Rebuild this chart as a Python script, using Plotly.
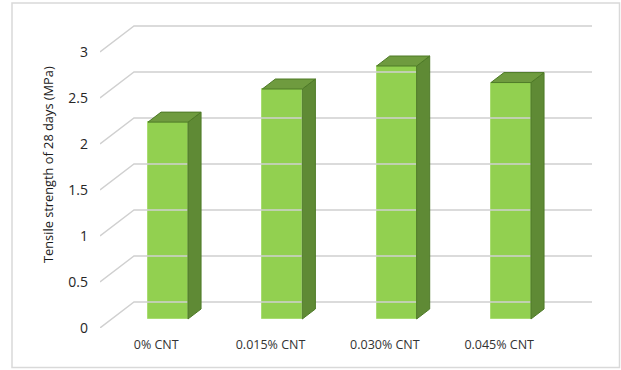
import plotly.graph_objects as go

# Tensile strength at 28 days for each CNT dosage
categories = ["0% CNT", "0.015% CNT", "0.030% CNT", "0.045% CNT"]
strength = [2.14, 2.50, 2.75, 2.57]
y_ticks = [0, 0.5, 1, 1.5, 2, 2.5, 3]

W, H = 621, 370
# plot area in pixels (left, right, top, bottom)
PL, PR, PT, PB = 100, 592, 10, 328
PX_PER_CAT = 114.33
PX_PER_VAL = 92.0
CAT0_PX = 156.2          # pixel x of first category on the floor front edge

# oblique 3D projection: full depth moves a point by (34px, -26px)
DEPTH_DX, DEPTH_DY = 34.0, 26.0
BAR_D0, BAR_D1 = 9 / 26, 19 / 26   # bar front / back depth fractions
BAR_W_PX = 40

x_lo = (PL - CAT0_PX) / PX_PER_CAT
x_hi = (PR - CAT0_PX) / PX_PER_CAT
y_lo = 0.0
y_hi = (PB - PT) / PX_PER_VAL


def proj(xc, v, d):
    """Project (category x, value, depth fraction) onto the front plane."""
    return (xc + d * DEPTH_DX / PX_PER_CAT, v + d * DEPTH_DY / PX_PER_VAL)


fig = go.Figure()

# back-wall gridlines plus left-wall diagonals
gx, gy = [], []
for v in y_ticks:
    x0, y0 = proj(x_lo, v, 0)
    x1, y1 = proj(x_lo, v, 1)
    gx += [x0, x1, x_hi, None]
    gy += [y0, y1, y1, None]
fig.add_trace(go.Scatter(x=gx, y=gy, mode="lines",
                         line=dict(color="#D0D0D0", width=1.4),
                         hoverinfo="skip", showlegend=False))

bw = BAR_W_PX / PX_PER_CAT
front_x = []
base_v = proj(0, 0, BAR_D0)[1]
for i, val in enumerate(strength):
    xc, _ = proj(i, 0, BAR_D0)
    front_x.append(xc)

# front faces
fig.add_trace(go.Bar(x=front_x, y=strength, base=[base_v] * len(strength),
                     width=bw, marker=dict(color="#92D050",
                                           line=dict(color="#A9DC72", width=1)),
                     hoverinfo="skip", showlegend=False))

# side and top faces
ddx = (BAR_D1 - BAR_D0) * DEPTH_DX / PX_PER_CAT
ddy = (BAR_D1 - BAR_D0) * DEPTH_DY / PX_PER_VAL
for xc, val in zip(front_x, strength):
    xl, xr = xc - bw / 2, xc + bw / 2
    top = base_v + val
    fig.add_trace(go.Scatter(
        x=[xr, xr, xr + ddx, xr + ddx, xr],
        y=[base_v, top, top + ddy, base_v + ddy, base_v],
        fill="toself", fillcolor="#5F8A35", mode="lines",
        line=dict(color="#4E7A27", width=1),
        hoverinfo="skip", showlegend=False))
    fig.add_trace(go.Scatter(
        x=[xl, xr, xr + ddx, xl + ddx, xl],
        y=[top, top, top + ddy, top + ddy, top],
        fill="toself", fillcolor="#6F9B3F", mode="lines",
        line=dict(color="#4E7A27", width=1),
        hoverinfo="skip", showlegend=False))

# chart border
def paper_x(p):
    return (p - PL) / (PR - PL)


def paper_y(q):
    return (PB - q) / (PB - PT)


fig.add_shape(type="rect", xref="paper", yref="paper",
              x0=paper_x(12), x1=paper_x(619.5), y0=paper_y(367.5), y1=paper_y(3),
              line=dict(color="#D9D9D9", width=1.5), fillcolor="rgba(0,0,0,0)")

fig.add_annotation(text="Tensile strength of 28 days (MPa)",
                   xref="paper", yref="paper",
                   x=paper_x(48), y=paper_y(165), textangle=-90,
                   showarrow=False, xanchor="center", yanchor="middle",
                   font=dict(family="Open Sans", size=12.8, color="#1A1A1A"))

fig.update_layout(
    width=W, height=H,
    margin=dict(l=PL, r=W - PR, t=PT, b=H - PB),
    paper_bgcolor="white", plot_bgcolor="rgba(0,0,0,0)",
    font=dict(family="Open Sans", size=12.5, color="#333333"),
    xaxis=dict(range=[x_lo, x_hi], tickmode="array",
               tickvals=list(range(len(categories))), ticktext=categories,
               showgrid=False, zeroline=False, showline=False,
               ticks="", ticklabelstandoff=7, fixedrange=True),
    yaxis=dict(range=[y_lo, y_hi], tickmode="array", tickvals=y_ticks,
               ticktext=[f"{t:g}" for t in y_ticks],
               showgrid=False, zeroline=False, showline=False,
               ticks="", ticklabelstandoff=11, fixedrange=True,
               tickfont=dict(size=14, color="#262626")),
    bargap=0,
)

fig.write_html("out.html")
